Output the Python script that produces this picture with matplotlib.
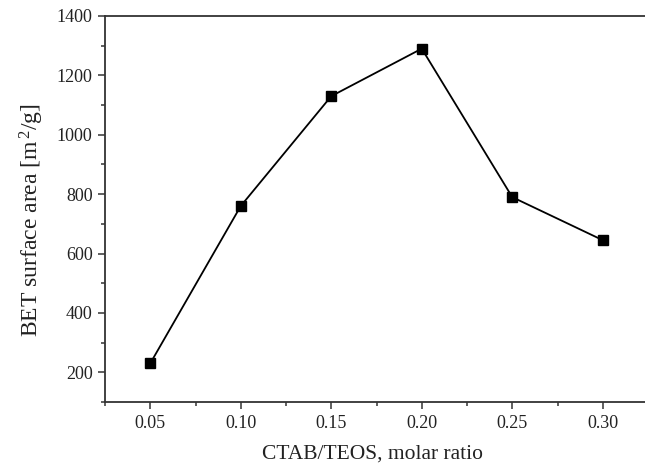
import matplotlib
matplotlib.use("Agg")
import matplotlib.pyplot as plt
from matplotlib.ticker import MultipleLocator

ratio = [0.05, 0.10, 0.15, 0.20, 0.25, 0.30]
bet_area = [230, 760, 1130, 1290, 790, 645]
xticks = [0.05, 0.10, 0.15, 0.20, 0.25, 0.30]
xtick_labels = ["0.05", "0.10", "0.15", "0.20", "0.25", "0.30"]
yticks = [200, 400, 600, 800, 1000, 1200, 1400]

plt.rcParams['font.family'] = ['Liberation Serif', 'DejaVu Serif']
plt.rcParams['mathtext.fontset'] = 'custom'
plt.rcParams['mathtext.rm'] = 'Liberation Serif'
plt.rcParams['mathtext.it'] = 'Liberation Serif:italic'
plt.rcParams['mathtext.bf'] = 'Liberation Serif:bold'

fig = plt.figure(figsize=(6.45, 4.72), dpi=100)
ax = fig.add_axes([105/645, 70/472, 543/645, 386/472])

ax.plot(ratio, bet_area, color='black', lw=1.3, marker='s', markersize=6.5,
        markerfacecolor='black', markeredgecolor='black')

ax.set_xlim(0.025, 0.325)
ax.set_ylim(100, 1400)
ax.set_xticks(xticks)
ax.set_xticklabels(xtick_labels)
ax.set_yticks(yticks)
ax.xaxis.set_minor_locator(MultipleLocator(0.025))
ax.yaxis.set_minor_locator(MultipleLocator(100))

for s in ax.spines.values():
    s.set_linewidth(1.3)
    s.set_color('#333333')

ax.tick_params(axis='both', which='major', direction='out', length=5, width=1.1,
               labelsize=13, color='#333333', labelcolor='#222222', pad=4)
ax.tick_params(axis='both', which='minor', direction='out', length=3, width=1.1,
               color='#333333')
ax.tick_params(top=False, right=False, which='both')

ax.set_xlabel("CTAB/TEOS, molar ratio", fontsize=15.5, color='#222222')
ax.xaxis.set_label_coords((372 - 105) / 543, -(445 - 402) / 386)
ax.set_ylabel(r"BET surface area [m$^{\,\mathrm{2}}$/g]", fontsize=17, color='#222222')
ax.yaxis.set_label_coords(-(105 - 46) / 543, (402 - 220) / 386)

fig.savefig("out.png", dpi=100)
